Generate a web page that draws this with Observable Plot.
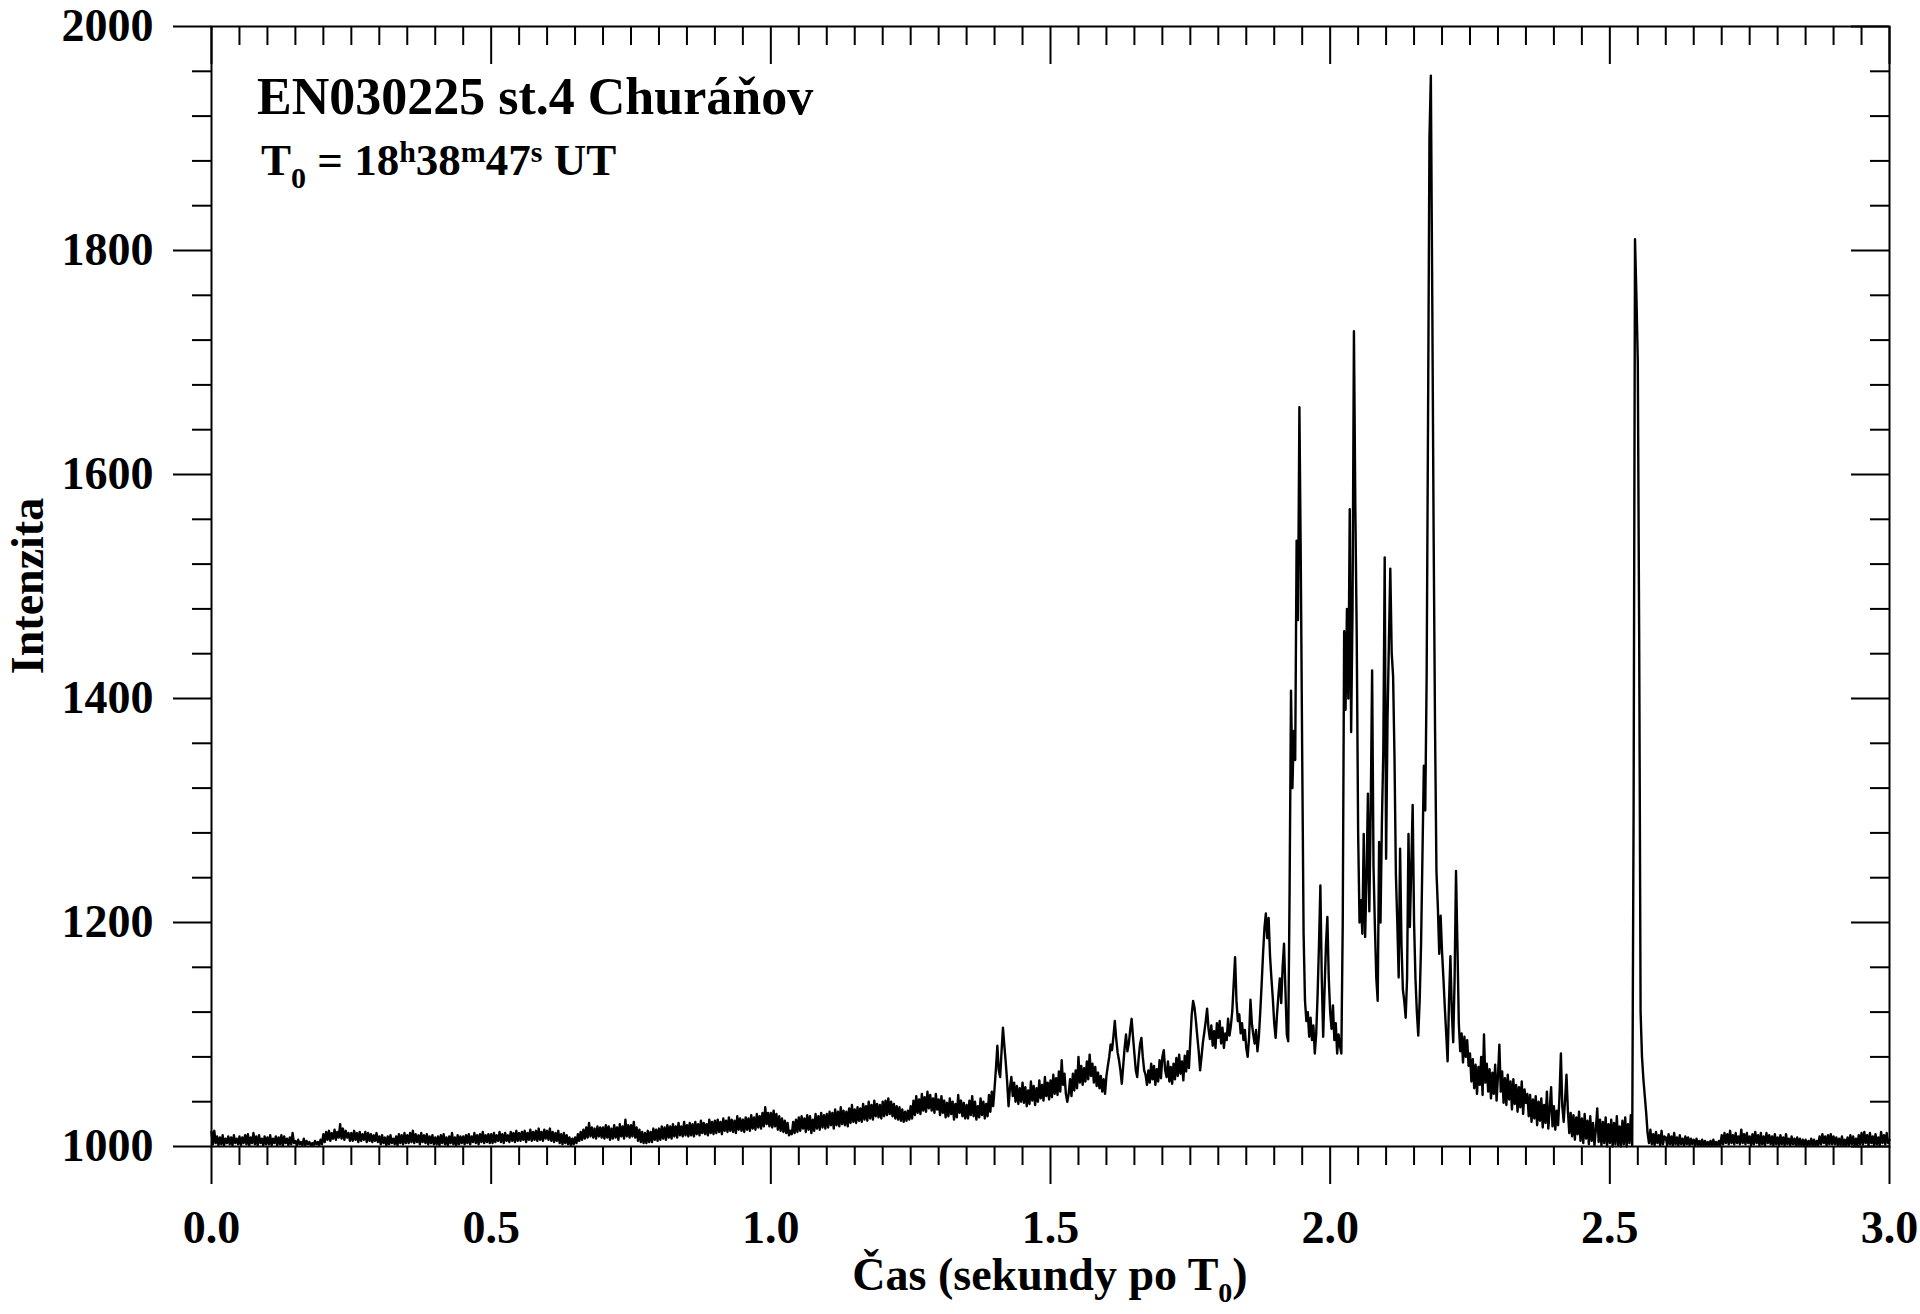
<!DOCTYPE html>
<html>
<head>
<meta charset="utf-8">
<script src="https://cdn.jsdelivr.net/npm/d3@7"></script>
<script src="https://cdn.jsdelivr.net/npm/@observablehq/plot@0.6"></script>
<style>
  html, body { margin: 0; padding: 0; background: #fff; }
  #chart svg { display: block; }
</style>
</head>
<body>
<div id="chart"></div>
<script>
// ---------- texts ----------
const titleLine1 = "EN030225 st.4 Churáňov";
const t0Parts = [["T", ""], ["0", "sub"], [" = 18", ""], ["h", "sup"], ["38", ""], ["m", "sup"], ["47", ""], ["s", "sup"], [" UT", ""]];
const xTitleParts = [["Čas (sekundy po T", ""], ["0", "sub"], [")", ""]];
const yTitle = "Intenzita";

// ---------- ticks ----------
const xMajorTicks = [0, 0.5, 1.0, 1.5, 2.0, 2.5, 3.0];
const xMinorTicks = [0.05, 0.1, 0.15, 0.2, 0.25, 0.3, 0.35, 0.4, 0.45,
  0.55, 0.6, 0.65, 0.7, 0.75, 0.8, 0.85, 0.9, 0.95,
  1.05, 1.1, 1.15, 1.2, 1.25, 1.3, 1.35, 1.4, 1.45,
  1.55, 1.6, 1.65, 1.7, 1.75, 1.8, 1.85, 1.9, 1.95,
  2.05, 2.1, 2.15, 2.2, 2.25, 2.3, 2.35, 2.4, 2.45,
  2.55, 2.6, 2.65, 2.7, 2.75, 2.8, 2.85, 2.9, 2.95];
const yMajorTicks = [1000, 1200, 1400, 1600, 1800, 2000];
const yMinorTicks = [1040, 1080, 1120, 1160, 1240, 1280, 1320, 1360, 1440, 1480, 1520, 1560,
  1640, 1680, 1720, 1760, 1840, 1880, 1920, 1960];

// ---------- intensity samples (step 0.0025 s) ----------
const sampleStep = 0.0025;
const int000 = [ // 0.00 – 0.4975 s
1013,1002,1014,1003,1009,1001,1008,1002,1010,1001,1007,1003,1009,1002,1008,1001,1010,1003,1007,1002,
1009,1001,1008,1003,1010,1002,1011,1001,1008,1003,1012,1002,1009,1001,1010,1003,1007,1001,1009,1002,
1008,1002,1010,1001,1007,1003,1009,1001,1008,1002,1010,1001,1009,1003,1007,1001,1008,1002,1012,1003,
1005,1001,1006,1002,1004,1001,1007,1001,1005,1002,1004,1001,1003,1001,1005,1002,1004,1001,1006,1002,
1011,1004,1013,1006,1014,1005,1012,1007,1015,1006,1013,1008,1020,1007,1016,1006,1014,1008,1012,1005,
1012,1005,1014,1006,1012,1004,1013,1005,1011,1006,1013,1004,1012,1005,1011,1004,1010,1005,1012,1004,
1009,1002,1010,1003,1008,1001,1009,1002,1010,1003,1007,1002,1009,1001,1011,1003,1010,1002,1012,1003,
1010,1003,1012,1004,1014,1003,1011,1004,1010,1002,1012,1004,1010,1003,1011,1002,1009,1003,1010,1002,
1008,1002,1009,1001,1010,1003,1011,1002,1008,1001,1009,1003,1012,1002,1008,1001,1010,1002,1009,1003,
1009,1002,1010,1003,1011,1002,1009,1004,1012,1003,1010,1002,1011,1004,1013,1003,1010,1004,1011,1003];
const int050 = [ // 0.50 – 0.9975 s
1011,1003,1012,1004,1010,1005,1013,1004,1011,1003,1012,1005,1010,1004,1013,1005,1012,1004,1014,1005,
1012,1005,1013,1006,1014,1004,1012,1006,1015,1005,1013,1006,1014,1005,1016,1006,1013,1005,1015,1007,
1014,1006,1016,1005,1013,1004,1012,1005,1014,1003,1011,1002,1012,1003,1010,1002,1008,1001,1007,1002,
1008,1003,1011,1005,1013,1006,1015,1007,1017,1008,1021,1009,1017,1008,1016,1007,1018,1009,1017,1008,
1017,1007,1019,1008,1018,1006,1016,1007,1019,1008,1017,1006,1020,1009,1018,1007,1024,1009,1019,1008,
1019,1009,1022,1008,1017,1005,1015,1004,1013,1003,1012,1003,1014,1004,1013,1004,1016,1006,1015,1005,
1016,1006,1018,1007,1017,1006,1019,1008,1018,1007,1020,1009,1018,1008,1021,1010,1018,1009,1022,1010,
1019,1009,1021,1010,1020,1009,1022,1011,1020,1010,1023,1012,1021,1011,1020,1010,1024,1012,1022,1011,
1023,1012,1024,1013,1022,1011,1025,1014,1023,1013,1026,1014,1024,1013,1023,1012,1027,1015,1025,1014,
1024,1013,1026,1015,1025,1014,1028,1016,1026,1015,1029,1017,1027,1016,1030,1018,1035,1020,1030,1018];
const int100 = [ // 1.00 – 1.4975 s
1030,1017,1032,1018,1029,1015,1027,1014,1025,1013,1023,1012,1021,1010,1014,1011,1022,1012,1024,1013,
1026,1014,1027,1016,1025,1013,1028,1015,1027,1012,1024,1014,1029,1016,1027,1015,1030,1017,1028,1016,
1029,1017,1031,1019,1030,1016,1033,1019,1031,1018,1035,1020,1032,1019,1031,1018,1034,1021,1037,1022,
1033,1021,1035,1023,1034,1022,1038,1024,1036,1023,1040,1025,1037,1024,1041,1027,1038,1026,1037,1025,
1040,1027,1041,1028,1043,1029,1040,1027,1038,1025,1036,1024,1035,1023,1033,1022,1031,1023,1032,1024,
1036,1025,1041,1028,1045,1030,1042,1029,1047,1032,1044,1031,1049,1034,1046,1032,1043,1030,1047,1033,
1042,1028,1045,1030,1041,1026,1039,1027,1043,1029,1040,1024,1038,1026,1046,1030,1041,1027,1039,1025,
1037,1025,1041,1028,1045,1027,1040,1024,1036,1026,1043,1028,1040,1025,1038,1027,1046,1031,1049,1036,
1052,1070,1090,1068,1062,1085,1106,1090,1075,1058,1036,1052,1062,1045,1057,1040,1054,1038,1052,1040,
1057,1039,1053,1036,1050,1038,1058,1041,1054,1037,1052,1040,1059,1043,1055,1041,1062,1045,1057,1042];
const int150 = [ // 1.50 – 1.9975 s
1059,1044,1064,1047,1061,1046,1067,1049,1077,1055,1065,1047,1040,1047,1060,1045,1065,1050,1068,1052,
1080,1057,1072,1055,1070,1058,1076,1060,1082,1063,1074,1057,1071,1054,1066,1052,1063,1049,1060,1047,
1063,1072,1080,1091,1086,1098,1112,1096,1084,1077,1068,1056,1072,1088,1100,1085,1092,1104,1114,1098,
1083,1068,1062,1078,1091,1097,1080,1068,1064,1055,1068,1057,1074,1060,1072,1055,1069,1058,1077,1061,
1080,1086,1068,1062,1076,1058,1071,1056,1074,1060,1079,1063,1082,1065,1076,1059,1081,1067,1085,1070,
1095,1118,1130,1124,1112,1098,1085,1068,1080,1093,1102,1112,1123,1105,1096,1108,1090,1103,1088,1110,
1097,1112,1092,1106,1088,1101,1095,1114,1099,1108,1121,1145,1169,1130,1112,1118,1101,1110,1095,1104,
1088,1080,1097,1131,1110,1100,1092,1104,1085,1098,1120,1145,1172,1195,1208,1186,1204,1170,1150,1132,
1110,1097,1118,1135,1150,1128,1160,1181,1140,1100,1094,1230,1407,1320,1371,1345,1541,1470,1660,1520,
1350,1190,1130,1112,1120,1098,1115,1095,1108,1083,1100,1135,1180,1233,1150,1098,1140,1180,1205,1150];
const int200 = [ // 2.00 – 2.4975 s
1120,1105,1126,1095,1110,1083,1100,1090,1083,1200,1460,1390,1480,1400,1569,1370,1480,1728,1570,1455,
1280,1200,1220,1190,1279,1187,1240,1315,1210,1300,1425,1250,1196,1150,1130,1272,1200,1290,1353,1526,
1257,1380,1450,1516,1441,1420,1348,1243,1200,1151,1266,1180,1140,1130,1115,1150,1279,1196,1250,1305,
1200,1150,1120,1099,1130,1180,1260,1340,1300,1420,1650,1900,1956,1760,1545,1374,1246,1214,1172,1206,
1174,1150,1124,1100,1076,1130,1170,1120,1093,1150,1246,1180,1110,1085,1101,1075,1098,1080,1095,1072,
1083,1058,1078,1052,1073,1047,1071,1055,1080,1046,1100,1057,1074,1049,1069,1043,1066,1047,1073,1041,
1063,1091,1049,1067,1039,1061,1037,1064,1042,1058,1033,1060,1038,1055,1031,1053,1035,1058,1029,1051,
1039,1047,1027,1046,1022,1042,1025,1045,1019,1040,1023,1043,1017,1037,1021,1049,1016,1033,1053,1018,
1036,1015,1032,1019,1045,1083,1036,1022,1042,1064,1032,1012,1030,1009,1028,1006,1026,1011,1031,1005,
1025,1003,1029,1007,1023,1002,1027,1005,1021,1001,1015,1034,1004,1024,1001,1022,1003,1026,1000,1020];
const int250 = [ // 2.50 – 3.00 s
1003,1024,1000,1021,1002,1027,1001,1018,1000,1023,1002,1026,1000,1020,1003,1028,1001,1300,1810,1760,
1700,1450,1120,1080,1060,1045,1030,1012,1003,1015,1002,1011,1001,1013,1003,1010,1001,1014,1002,1009,
1008,1001,1011,1002,1009,1001,1012,1002,1008,1001,1010,1002,1007,1001,1009,1002,1008,1001,1007,1002,
1006,1001,1007,1001,1005,1001,1006,1001,1005,1001,1004,1001,1005,1001,1006,1001,1004,1001,1005,1001,
1010,1002,1012,1003,1011,1002,1014,1003,1010,1002,1012,1003,1009,1002,1015,1003,1011,1002,1012,1003,
1009,1001,1011,1002,1013,1003,1010,1001,1012,1002,1009,1001,1012,1003,1010,1002,1009,1001,1011,1002,
1008,1001,1010,1002,1008,1001,1011,1002,1007,1001,1009,1002,1007,1001,1008,1001,1007,1001,1006,1001,
1006,1001,1005,1001,1007,1001,1006,1001,1005,1001,1009,1002,1011,1003,1009,1001,1010,1002,1011,1002,
1009,1002,1008,1001,1007,1001,1009,1001,1006,1001,1008,1001,1010,1002,1009,1001,1007,1001,1010,1002,
1012,1002,1013,1003,1010,1001,1012,1003,1009,1001,1011,1002,1008,1001,1013,1003,1010,1002,1012,1003,
1006];

const samples = [].concat(int000, int050, int100, int150, int200, int250);
const data = samples.map((v, i) => ({t: i * sampleStep, v}));

// ---------- layout ----------
const W = 1920, H = 1314;
const mL = 211, mR = 31, mT = 26, mB = 168;
const frameW = W - mL - mR, frameH = H - mT - mB;
const majorLen = 38, minorLen = 19, lw = 2;
const FONT = '"Liberation Serif", "Times New Roman", Times, serif';

const chart = Plot.plot({
  width: W, height: H,
  marginLeft: mL, marginRight: mR, marginTop: mT, marginBottom: mB,
  style: {fontFamily: FONT, fontWeight: "bold", fontSize: "46px", background: "#fff", color: "#000", overflow: "visible"},
  x: {domain: [0, 3], axis: null, label: null},
  y: {domain: [1000, 2000], axis: null, label: null},
  marks: [
    Plot.line(data, {x: "t", y: "v", stroke: "#000", strokeWidth: 2.4}),
    Plot.frame({stroke: "#000", strokeWidth: lw}),
    Plot.axisY(yMajorTicks, {anchor: "left", tickSize: majorLen, tickPadding: 20, strokeWidth: lw, tickFormat: d => String(d), label: null}),
    Plot.axisY(yMinorTicks, {anchor: "left", tickSize: minorLen, strokeWidth: lw, fill: "none", label: null}),
    Plot.tickY(yMajorTicks, {y: d => d, insetLeft: frameW - majorLen, stroke: "#000", strokeWidth: lw}),
    Plot.tickY(yMinorTicks, {y: d => d, insetLeft: frameW - minorLen, stroke: "#000", strokeWidth: lw}),
    Plot.axisX(xMajorTicks, {anchor: "bottom", tickSize: majorLen, tickPadding: 26, strokeWidth: lw, tickFormat: d => d.toFixed(1), label: null}),
    Plot.axisX(xMinorTicks, {anchor: "bottom", tickSize: minorLen, strokeWidth: lw, fill: "none", label: null}),
    Plot.tickX(xMajorTicks, {x: d => d, insetBottom: frameH - majorLen, stroke: "#000", strokeWidth: lw}),
    Plot.tickX(xMinorTicks, {x: d => d, insetBottom: frameH - minorLen, stroke: "#000", strokeWidth: lw})
  ]
});

document.getElementById("chart").appendChild(chart);
const svgEl = chart.tagName.toLowerCase() === "svg" ? chart : chart.querySelector("svg");
const svg = d3.select(svgEl);
const g = svg.append("g").attr("fill", "#000").style("font-family", FONT).style("font-weight", "bold");

function richText(sel, parts, size, smallSize, shift) {
  let cur = 0;
  parts.forEach(([txt, kind]) => {
    const target = kind === "sub" ? shift : kind === "sup" ? -shift : 0;
    sel.append("tspan")
      .attr("dy", target - cur)
      .style("font-size", (kind ? smallSize : size) + "px")
      .text(txt);
    cur = target;
  });
}

// title lines inside the frame
g.append("text").attr("x", mL + 46).attr("y", 114).attr("text-anchor", "start")
  .style("font-size", "52px").text(titleLine1);
const l2 = g.append("text").attr("x", mL + 50).attr("y", 175).attr("text-anchor", "start").style("font-size", "45px");
richText(l2, t0Parts, 45, 30, 13);

// x axis title
const xt = g.append("text").attr("x", mL + frameW / 2).attr("y", 1290).attr("text-anchor", "middle").style("font-size", "46px");
richText(xt, xTitleParts, 46, 28, 12);

// y axis title
g.append("text")
  .attr("transform", `translate(43,${mT + frameH / 2}) rotate(-90)`)
  .attr("text-anchor", "middle").style("font-size", "46px").text(yTitle);
</script>
</body>
</html>
